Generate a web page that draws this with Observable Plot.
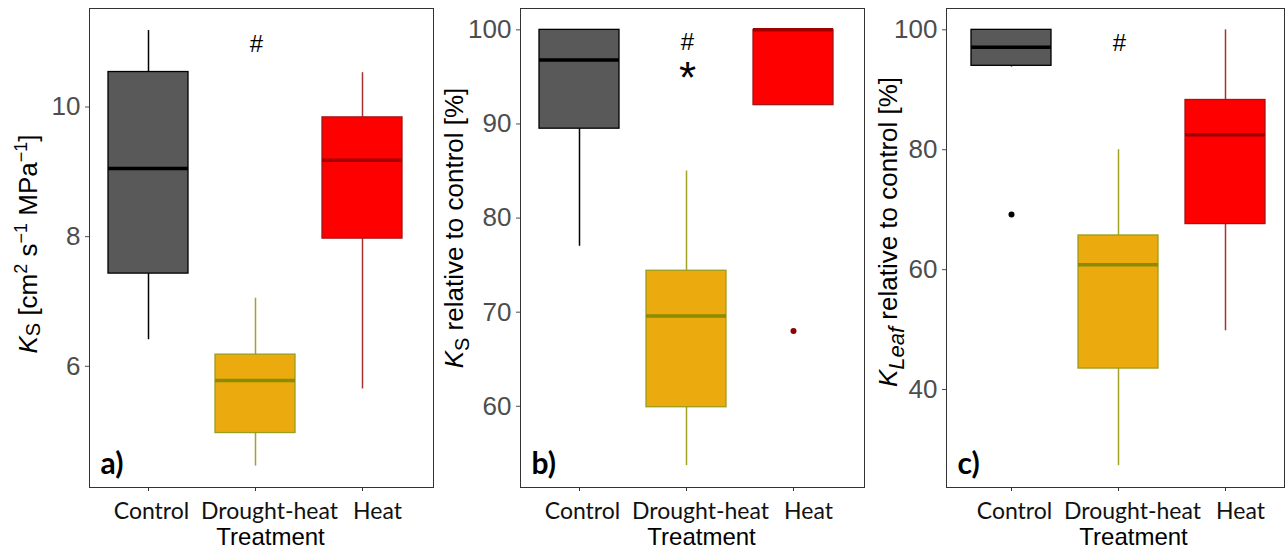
<!DOCTYPE html>
<html><head><meta charset="utf-8">
<script src="https://cdn.jsdelivr.net/npm/d3@7"></script>
<script src="https://cdn.jsdelivr.net/npm/@observablehq/plot@0.6"></script>
<style>
body{margin:0;background:#fff}
#wrap{position:relative;width:1286px;height:548px;overflow:hidden}
#wrap svg{position:absolute;top:0}
</style>
</head><body><div id="wrap"></div>
<script>
// ---------- data ----------
const treatments = ["Control", "Drought-heat", "Heat"];

// a) Ks [cm2 s-1 MPa-1]
const ksLow  = [6.41, 4.46, 5.65];
const ksQ1   = [7.43, 4.97, 7.97];
const ksMed  = [9.05, 5.78, 9.18];
const ksQ3   = [10.54, 6.18, 9.84];
const ksHigh = [11.18, 7.05, 10.53];
const ksOutT = [];
const ksOutV = [];
const ksNoteT = ["Drought-heat"];
const ksNoteV = [10.97];
const ksNoteS = ["#"];
const ksTicks = [6, 8, 10];

// b) Ks relative to control [%]
const ksrLow  = [77.0, 53.7, 92.0];
const ksrQ1   = [89.5, 59.9, 92.0];
const ksrMed  = [96.8, 69.6, 100];
const ksrQ3   = [100, 74.4, 100];
const ksrHigh = [100, 85.0, 100];
const ksrOutT = ["Heat"];
const ksrOutV = [68.0];
const ksrNoteT = ["Drought-heat", "Drought-heat"];
const ksrNoteV = [98.7, 96.6];
const ksrNoteS = ["#", "*"];
const ksrTicks = [60, 70, 80, 90, 100];

// c) KLeaf relative to control [%]
const klLow  = [93.8, 27.3, 49.8];
const klQ1   = [94.0, 43.5, 67.6];
const klMed  = [97.1, 60.8, 82.5];
const klQ3   = [100, 65.7, 88.3];
const klHigh = [100, 80.0, 100];
const klOutT = ["Control"];
const klOutV = [69.2];
const klNoteT = ["Drought-heat"];
const klNoteV = [97.7];
const klNoteS = ["#"];
const klTicks = [40, 60, 80, 100];

// ---------- styles ----------
const styleOf = {
  "Control":      {cFill: "#595959", cStroke: "#000000", cMed: "#000000", cWhisk: "#000000", cPt: "#000000"},
  "Drought-heat": {cFill: "#EBAB0E", cStroke: "#9C9C1C", cMed: "#8B8B00", cWhisk: "#A3A326", cPt: "#8B8B00"},
  "Heat":         {cFill: "#FF0000", cStroke: "#A31515", cMed: "#A00000", cWhisk: "#A83232", cPt: "#8B0000"}
};
const labelDx = {"Control": 3, "Drought-heat": 14, "Heat": 15};

function stats(low, q1, med, q3, high) {
  return treatments.map((t, i) => ({t, low: low[i], q1: q1[i], med: med[i], q3: q3[i], high: high[i], ...styleOf[t]}));
}
function pts(T, V) { return T.map((t, i) => ({t, v: V[i], ...styleOf[t]})); }
function notes(T, V, S) { return T.map((t, i) => ({t, v: V[i], s: S[i]})); }

const panels = [
  {left: 0, width: 440, mL: 89, mR: 7, range: [83.5, 427.5], domain: [4.13, 11.52], ticks: ksTicks,
   rows: stats(ksLow, ksQ1, ksMed, ksQ3, ksHigh), out: pts(ksOutT, ksOutV), notes: notes(ksNoteT, ksNoteV, ksNoteS),
   letter: "a)", labX: 37, labY: 244, label: "a"},
  {left: 440, width: 430, mL: 80, mR: 6, range: [74.5, 418.5], domain: [51.37, 102.27], ticks: ksrTicks,
   rows: stats(ksrLow, ksrQ1, ksrMed, ksrQ3, ksrHigh), out: pts(ksrOutT, ksrOutV), notes: notes(ksrNoteT, ksrNoteV, ksrNoteS),
   letter: "b)", labX: 23, labY: 228, label: "b"},
  {left: 870, width: 416, mL: 76, mR: 2, range: [76.5, 420.5], domain: [23.66, 103.56], ticks: klTicks,
   rows: stats(klLow, klQ1, klMed, klQ3, klHigh), out: pts(klOutT, klOutV), notes: notes(klNoteT, klNoteV, klNoteS),
   letter: "c)", labX: 27, labY: 232, label: "c"}
];

const wrap = document.getElementById("wrap");
const calibri = "Lato, 'Noto Sans', sans-serif";
const arial = "'Liberation Sans', Arial, sans-serif";

for (const p of panels) {
  const marks = [
    Plot.ruleX(p.rows, {x: "t", y1: "q3", y2: "high", stroke: "cWhisk", strokeWidth: 1.5}),
    Plot.ruleX(p.rows, {x: "t", y1: "low", y2: "q1", stroke: "cWhisk", strokeWidth: 1.5}),
    Plot.barY(p.rows, {x: "t", y1: "q1", y2: "q3", fill: "cFill", stroke: "cStroke", strokeWidth: 1.3}),
    Plot.tickY(p.rows, {x: "t", y: "med", stroke: "cMed", strokeWidth: 3.5}),
    Plot.dot(p.out, {x: "t", y: "v", r: 3, fill: "cPt", stroke: "none"}),
    Plot.frame({stroke: "#333", strokeWidth: 1}),
    Plot.axisY({ticks: p.ticks, tickSize: 4, tickPadding: 5, fontSize: 26, fontFamily: arial, color: "#4d4d4d", label: null}),
    Plot.axisX({tickSize: 4, tickFormat: () => "", color: "#333", label: null}),
    ...treatments.map(t => Plot.text([t], {x: d => d, frameAnchor: "bottom", dy: 31, dx: labelDx[t],
      fontSize: 23, fontFamily: calibri, fill: "#111"})),
    Plot.text(["Treatment"], {x: () => "Drought-heat", frameAnchor: "bottom", dy: 57, dx: 15,
      fontSize: 24, fontFamily: arial, fill: "#000"}),
    Plot.text(p.notes.filter(d => d.s === "#"), {x: "t", y: "v", text: "s", fontSize: 24, fontFamily: arial, fill: "#000", dx: 1}),
    Plot.text(p.notes.filter(d => d.s === "*"), {x: "t", y: "v", text: "s", fontSize: 44, fontFamily: arial,
      fill: "#000", lineAnchor: "top", dx: 1}),
    Plot.text([p.letter], {frameAnchor: "bottom-left", dx: 11, dy: -14, fontSize: 30, fontWeight: "bold",
      fontFamily: calibri, fill: "#000", textAnchor: "start"})
  ];
  const svg = Plot.plot({
    width: p.width, height: 548,
    marginTop: 8, marginBottom: 61, marginLeft: p.mL, marginRight: p.mR,
    style: {background: "transparent", overflow: "visible"},
    x: {type: "band", domain: treatments, range: p.range, paddingInner: 0.25, paddingOuter: 0.225, axis: null},
    y: {domain: p.domain, axis: null},
    color: {type: "identity"},
    marks
  });
  svg.style.left = p.left + "px";
  wrap.appendChild(svg);

  // y-axis title with italic K and sub/superscripts
  const t = d3.select(svg).append("text")
    .attr("transform", `translate(${p.labX},${p.labY}) rotate(-90)`)
    .attr("text-anchor", "middle")
    .attr("font-family", arial).attr("font-size", 26).attr("fill", "#000");
  t.append("tspan").attr("font-style", "italic").text("K");
  if (p.label === "a") {
    t.append("tspan").attr("font-size", 20).attr("dy", 3).text("S");
    t.append("tspan").attr("dy", -3).text(" [cm");
    t.append("tspan").attr("font-size", 18).attr("dy", -10).text("2");
    t.append("tspan").attr("dy", 10).text(" s");
    t.append("tspan").attr("font-size", 18).attr("dy", -10).text("\u22121");
    t.append("tspan").attr("dy", 10).text(" MPa");
    t.append("tspan").attr("font-size", 18).attr("dy", -10).text("\u22121");
    t.append("tspan").attr("dy", 10).text("]");
  } else if (p.label === "b") {
    t.append("tspan").attr("font-size", 20).attr("dy", 6).text("S");
    t.append("tspan").attr("dy", -6).text(" relative to control [%]");
  } else {
    t.append("tspan").attr("font-size", 22).attr("font-style", "italic").attr("dy", 7).text("Leaf");
    t.append("tspan").attr("dy", -7).text(" relative to control [%]");
  }
}
</script>
</body></html>
